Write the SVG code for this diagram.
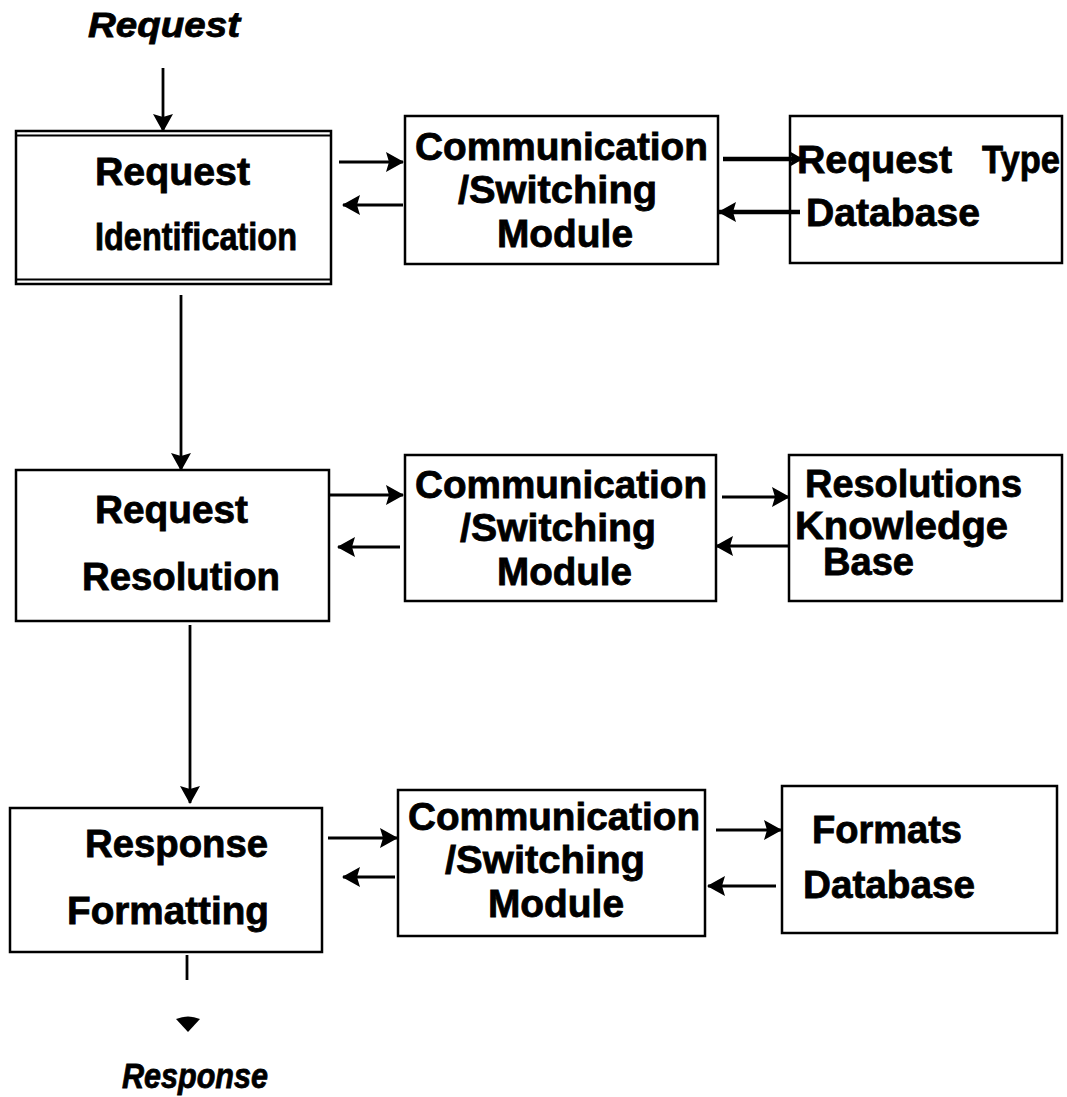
<svg xmlns="http://www.w3.org/2000/svg" width="1067" height="1097" viewBox="0 0 1067 1097">
  <defs>
    <style>
      .box { fill: #fff; stroke: #000; stroke-width: 2.5; }
      .rule { stroke: #000; stroke-width: 2; fill: none; }
      .lbl { font-family: "Liberation Sans", Arial, sans-serif; font-weight: bold; font-size: 38px; fill: #000; stroke: #000; stroke-width: 0.8; }
      .io { font-family: "Liberation Sans", Arial, sans-serif; font-weight: bold; font-style: italic; font-size: 35px; fill: #000; stroke: #000; stroke-width: 0.8; }
      .flow { stroke: #000; stroke-width: 2.8; fill: none; }
      .flow.heavy { stroke-width: 4.5; }
    </style>
    <!-- filled arrowhead, slightly notched at the back -->
    <marker id="head" viewBox="0 0 18 20" refX="17" refY="10" markerWidth="18" markerHeight="20" markerUnits="userSpaceOnUse" orient="auto">
      <path d="M0,0 L18,10 L0,20 L3,10 z" fill="#000"/>
    </marker>
    <marker id="headS" viewBox="0 0 13 15" refX="12" refY="7.5" markerWidth="13" markerHeight="15" markerUnits="userSpaceOnUse" orient="auto">
      <path d="M0,0 L13,7.5 L0,15 L2,7.5 z" fill="#000"/>
    </marker>
  </defs>
  <rect width="1067" height="1097" fill="#fff"/>

  <!-- entry / exit labels -->
  <text class="io" x="88" y="37" textLength="152" lengthAdjust="spacingAndGlyphs">Request</text>
  <text class="io" x="122" y="1088" textLength="146" lengthAdjust="spacingAndGlyphs">Response</text>

  <!-- row 1 -->
  <g id="request-identification">
    <rect class="box" x="16" y="131" width="315" height="153"/>
    <line class="rule" x1="16" y1="135.5" x2="331" y2="135.5"/>
    <line class="rule" x1="16" y1="279.5" x2="331" y2="279.5"/>
    <text class="lbl" x="95" y="185" textLength="155" lengthAdjust="spacingAndGlyphs">Request</text>
    <text class="lbl" x="95" y="250" textLength="202" lengthAdjust="spacingAndGlyphs">Identification</text>
  </g>
  <g id="switching-1">
    <rect class="box" x="405" y="116" width="313" height="148"/>
    <text class="lbl" x="415" y="160" textLength="293" lengthAdjust="spacingAndGlyphs">Communication</text>
    <text class="lbl" x="458" y="203" textLength="199" lengthAdjust="spacingAndGlyphs">/Switching</text>
    <text class="lbl" x="497" y="247" textLength="136" lengthAdjust="spacingAndGlyphs">Module</text>
  </g>
  <g id="request-type-db">
    <rect class="box" x="790" y="116" width="272" height="147"/>
    <text class="lbl" y="173"><tspan x="797" textLength="155" lengthAdjust="spacingAndGlyphs">Request</tspan><tspan x="982" textLength="78" lengthAdjust="spacingAndGlyphs">Type</tspan></text>
    <text class="lbl" x="806" y="226" textLength="174" lengthAdjust="spacingAndGlyphs">Database</text>
  </g>

  <!-- row 2 -->
  <g id="request-resolution">
    <rect class="box" x="16" y="470" width="313" height="151"/>
    <text class="lbl" x="95" y="523" textLength="153" lengthAdjust="spacingAndGlyphs">Request</text>
    <text class="lbl" x="82" y="590" textLength="198" lengthAdjust="spacingAndGlyphs">Resolution</text>
  </g>
  <g id="switching-2">
    <rect class="box" x="405" y="455" width="311" height="146"/>
    <text class="lbl" x="415" y="498" textLength="292" lengthAdjust="spacingAndGlyphs">Communication</text>
    <text class="lbl" x="460" y="541" textLength="196" lengthAdjust="spacingAndGlyphs">/Switching</text>
    <text class="lbl" x="497" y="585" textLength="135" lengthAdjust="spacingAndGlyphs">Module</text>
  </g>
  <g id="resolutions-kb">
    <rect class="box" x="789" y="455" width="273" height="146"/>
    <text class="lbl" x="805" y="497" textLength="217" lengthAdjust="spacingAndGlyphs">Resolutions</text>
    <text class="lbl" x="795" y="539" textLength="213" lengthAdjust="spacingAndGlyphs">Knowledge</text>
    <text class="lbl" x="823" y="575" textLength="91" lengthAdjust="spacingAndGlyphs">Base</text>
  </g>

  <!-- row 3 -->
  <g id="response-formatting">
    <rect class="box" x="10" y="808" width="312" height="144"/>
    <text class="lbl" x="85" y="857" textLength="183" lengthAdjust="spacingAndGlyphs">Response</text>
    <text class="lbl" x="67" y="924" textLength="202" lengthAdjust="spacingAndGlyphs">Formatting</text>
  </g>
  <g id="switching-3">
    <rect class="box" x="398" y="790" width="307" height="146"/>
    <text class="lbl" x="408" y="830" textLength="292" lengthAdjust="spacingAndGlyphs">Communication</text>
    <text class="lbl" x="445" y="873" textLength="200" lengthAdjust="spacingAndGlyphs">/Switching</text>
    <text class="lbl" x="488" y="917" textLength="136" lengthAdjust="spacingAndGlyphs">Module</text>
  </g>
  <g id="formats-db">
    <rect class="box" x="782" y="786" width="275" height="147"/>
    <text class="lbl" x="812" y="843" textLength="150" lengthAdjust="spacingAndGlyphs">Formats</text>
    <text class="lbl" x="803" y="898" textLength="172" lengthAdjust="spacingAndGlyphs">Database</text>
  </g>

  <!-- connectors -->
  <g id="connectors">
    <line class="flow" x1="163" y1="68" x2="163" y2="131" marker-end="url(#head)"/>
    <line class="flow" x1="339" y1="162" x2="403" y2="162" marker-end="url(#head)"/>
    <line class="flow" x1="403" y1="205" x2="343" y2="205" marker-end="url(#head)"/>
    <line class="flow heavy" x1="723" y1="159" x2="802" y2="159" marker-end="url(#headS)"/>
    <line class="flow heavy" x1="800" y1="212" x2="719" y2="212" marker-end="url(#head)"/>
    <line class="flow" x1="181" y1="295" x2="181" y2="470" marker-end="url(#head)"/>

    <line class="flow" x1="330" y1="495" x2="403" y2="495" marker-end="url(#head)"/>
    <line class="flow" x1="400" y1="547" x2="338" y2="547" marker-end="url(#head)"/>
    <line class="flow" x1="722" y1="497" x2="789" y2="497" marker-end="url(#head)"/>
    <line class="flow" x1="788" y1="546" x2="716" y2="546" marker-end="url(#head)"/>
    <line class="flow" x1="190" y1="625" x2="190" y2="803" marker-end="url(#head)"/>

    <line class="flow" x1="328" y1="838" x2="397" y2="838" marker-end="url(#head)"/>
    <line class="flow" x1="395" y1="877" x2="343" y2="877" marker-end="url(#head)"/>
    <line class="flow" x1="716" y1="830" x2="781" y2="830" marker-end="url(#head)"/>
    <line class="flow" x1="776" y1="886" x2="708" y2="886" marker-end="url(#head)"/>

    <line class="flow" x1="187" y1="955" x2="187" y2="980"/>
    <path d="M176,1019 Q188,1014 200,1019 L188,1032 z" fill="#000"/>
  </g>
</svg>
